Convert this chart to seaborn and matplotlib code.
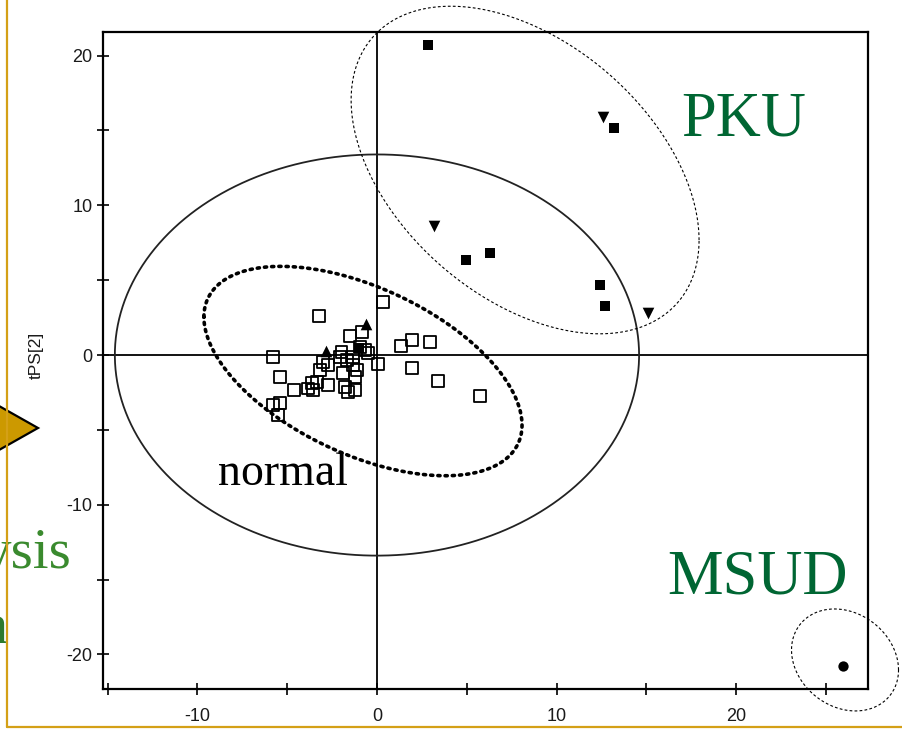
import numpy as np
import pandas as pd
import matplotlib
matplotlib.use("Agg")
import matplotlib.pyplot as plt
from matplotlib.patches import Polygon
from matplotlib.lines import Line2D
import seaborn as sns

# PLS score coordinates (t[1], tPS[2]) by sample group
normal_x = [0.35, -3.21, -5.81, -5.40, -4.62, -5.81, -5.40, -5.50, 1.34, 1.97,
            2.95, 1.97, 3.38, 5.74, 0.04, -1.50, -0.85, -1.97, -2.71, -3.18,
            -3.64, -3.55, -2.71, -1.88, -1.78, -1.23, -1.23, -1.32, -0.48, -1.32,
            -3.36, -1.69, -0.95, -0.67, -2.99, -3.83, -1.60, -2.06, -1.13]
normal_y = [3.56, 2.60, -0.11, -1.49, -2.36, -3.34, -3.23, -4.01, 0.62, 1.00,
            0.89, -0.87, -1.72, -2.72, -0.62, 1.27, 1.56, 0.22, -0.67, -1.00,
            -1.89, -2.34, -2.00, -1.22, -2.12, -2.34, -1.45, -0.67, 0.11, -0.11,
            -1.78, -0.33, 0.55, 0.33, -0.45, -2.23, -2.45, -0.11, -1.00]
normal_tri_x = [-0.61, -2.84]
normal_tri_y = [2.10, 0.29]
normal_fill_x = [-1.00]
normal_fill_y = [0.50]

pku_sq_x = [2.84, 13.20, 4.96, 6.30, 12.40, 12.70]
pku_sq_y = [20.70, 15.20, 6.35, 6.80, 4.70, 3.30]
pku_tri_x = [12.57, 3.19, 15.10]
pku_tri_y = [15.90, 8.62, 2.78]

msud_x = [25.96]
msud_y = [-20.80]

x_ticks = [-10, 0, 10, 20]
y_ticks = [-20, -10, 0, 10, 20]

# Confidence ellipses: centre, two conjugate semi-diameters
hotelling = dict(c=(0.0, 0.0), u=(14.6, 0.0), v=(0.0, 13.4))
normal_ell = dict(c=(-0.78, -1.07), u=(-8.86, 3.61), v=(0.0, 5.99))
pku_ell = dict(c=(8.25, 12.36), u=(9.69, -4.68), v=(0.0, 9.89))
msud_ell = dict(c=(26.07, -20.37), u=(2.98, -0.67), v=(0.0, 3.34))

W, H = 903, 730
sns.set_style("white")
plt.rcParams["font.family"] = ["Liberation Sans", "DejaVu Sans"]
plt.rcParams["axes.unicode_minus"] = False

fig = plt.figure(figsize=(W / 100, H / 100), dpi=100)
ax = fig.add_axes([103 / W, 1 - 689 / H, (868 - 103) / W, (689 - 32) / H])
ax.set_xlim(-15.26, 27.35)
ax.set_ylim(-22.31, 21.58)


def ellipse_pts(e, n=400):
    t = np.linspace(0, 2 * np.pi, n)
    x = e["c"][0] + e["u"][0] * np.cos(t) + e["v"][0] * np.sin(t)
    y = e["c"][1] + e["u"][1] * np.cos(t) + e["v"][1] * np.sin(t)
    return x, y


# zero lines
ax.axhline(0, color="black", lw=1.3, zorder=1)
ax.axvline(0, color="black", lw=1.3, zorder=1)

hx, hy = ellipse_pts(hotelling)
ax.plot(hx, hy, color="#222222", lw=1.3, zorder=2)
nx, ny = ellipse_pts(normal_ell)
ax.plot(nx, ny, color="black", lw=2.6, linestyle=(0, (0.6, 1.4)),
        dash_capstyle="round", zorder=2)
px, py = ellipse_pts(pku_ell)
ax.plot(px, py, color="black", lw=0.8, linestyle=(0, (2.5, 2.0)),
        zorder=2, clip_on=False)
mx, my = ellipse_pts(msud_ell)
ax.plot(mx, my, color="black", lw=0.8, linestyle=(0, (2.5, 2.0)),
        zorder=2, clip_on=False)

# sample scores
df_norm = pd.DataFrame({"t1": normal_x, "t2": normal_y})
sns.scatterplot(data=df_norm, x="t1", y="t2", marker="s", s=72,
                color="black", linewidth=1.3, ax=ax, zorder=3)
coll = ax.collections[-1]
coll.set_facecolor("none")
coll.set_edgecolor("black")

sns.scatterplot(x=normal_fill_x, y=normal_fill_y, marker="s", s=45,
                color="black", edgecolor="black", linewidth=0, ax=ax, zorder=4)
sns.scatterplot(x=normal_tri_x, y=normal_tri_y, marker="^", s=70,
                color="black", edgecolor="black", linewidth=0, ax=ax, zorder=4)
sns.scatterplot(x=pku_sq_x, y=pku_sq_y, marker="s", s=45,
                color="black", edgecolor="black", linewidth=0, ax=ax, zorder=4)
sns.scatterplot(x=pku_tri_x, y=pku_tri_y, marker="v", s=70,
                color="black", edgecolor="black", linewidth=0, ax=ax, zorder=4)
sns.scatterplot(x=msud_x, y=msud_y, marker="o", s=55,
                color="black", edgecolor="black", linewidth=0, ax=ax, zorder=4)

# axes frame and ticks
for sp in ax.spines.values():
    sp.set_visible(True)
    sp.set_color("black")
    sp.set_linewidth(1.6)
ax.set_xticks(x_ticks)
ax.set_yticks(y_ticks)
ax.set_xticks([-15, -5, 5, 15, 25], minor=True)
ax.set_yticks([-15, -5, 5, 15], minor=True)
ax.tick_params(which="both", direction="inout", length=9, width=1.2,
               color="black", bottom=True, left=True)
ax.tick_params(axis="y", which="major", pad=3, labelsize=13, labelcolor="#1a1a1a")
ax.tick_params(axis="x", which="major", pad=9, labelsize=13, labelcolor="#1a1a1a")
ax.set_xlabel("")
ax.set_ylabel("")
ax.grid(False)

fig.text(36 / W, 1 - 355 / H, "tPS[2]", rotation=90, ha="center", va="center",
         fontsize=12.5, color="#1a1a1a")

# group labels
serif = ["Liberation Serif", "DejaVu Serif"]
fig.text(681 / W, 1 - 136 / H, "PKU", family=serif, fontsize=45,
         color="#006633", ha="left", va="baseline")
fig.text(667 / W, 1 - 593 / H, "MSUD", family=serif, fontsize=45,
         color="#006633", ha="left", va="baseline")
fig.text(218 / W, 1 - 485 / H, "normal", family=serif, fontsize=33,
         color="black", ha="left", va="baseline")

# slide decorations at the left edge
fig.text(-18 / W, 1 - 568 / H, "ysis", family=serif, fontsize=41,
         color="#3a8a2e", ha="left", va="baseline")
fig.text(8 / W, 1 - 643 / H, "n", family=serif, fontsize=42,
         color="#2e7a2e", ha="right", va="baseline")
arrow = Polygon([(-24 / W, 1 - 393 / H), (-24 / W, 1 - 463 / H), (38 / W, 1 - 428 / H)],
                closed=True, transform=fig.transFigure, facecolor="#CC9900",
                edgecolor="black", lw=1.6, zorder=5)
fig.patches.append(arrow)
fig.lines.append(Line2D([7 / W, 7 / W], [1 - 727 / H, 1.0], transform=fig.transFigure,
                        color="#D4A017", lw=1.6, zorder=6))
fig.lines.append(Line2D([7 / W, 1.0], [1 - 727 / H, 1 - 727 / H], transform=fig.transFigure,
                        color="#D4A017", lw=1.6, zorder=6))

fig.savefig("out.png", dpi=100)
